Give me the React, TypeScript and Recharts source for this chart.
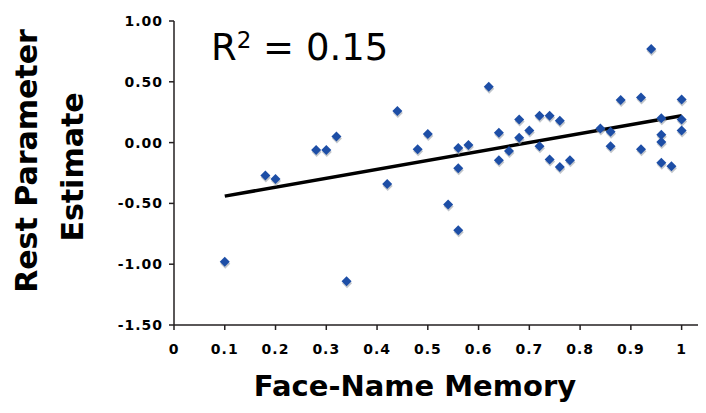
import { ScatterChart, Scatter, XAxis, YAxis, ReferenceLine } from "recharts";

// Face-name memory score per subject
const memory = [
  0.1, 0.18, 0.2, 0.28, 0.3, 0.32, 0.34, 0.42, 0.44, 0.48, 0.5, 0.54, 0.56, 0.56, 0.56,
  0.58, 0.62, 0.64, 0.64, 0.66, 0.68, 0.68, 0.7, 0.72, 0.72, 0.74, 0.74, 0.76, 0.76,
  0.78, 0.84, 0.86, 0.86, 0.88, 0.92, 0.92, 0.94, 0.96, 0.96, 0.96, 0.96, 0.98, 1.0,
  1.0, 1.0,
];

// Rest parameter estimate per subject
const estimate = [
  -0.98, -0.27, -0.3, -0.06, -0.06, 0.05, -1.14, -0.34, 0.26, -0.055, 0.07, -0.51,
  -0.72, -0.045, -0.21, -0.02, 0.46, 0.08, -0.145, -0.07, 0.19, 0.04, 0.1, 0.22, -0.03,
  0.22, -0.14, 0.18, -0.2, -0.145, 0.115, 0.09, -0.03, 0.35, 0.37, -0.055, 0.77, 0.2,
  0.065, 0.005, -0.165, -0.195, 0.355, 0.19, 0.1,
];

// fitted line end points
const fitX = [0.1, 1.0];
const fitY = [-0.44, 0.22];

const xTicks = [0, 0.1, 0.2, 0.3, 0.4, 0.5, 0.6, 0.7, 0.8, 0.9, 1];
const yTicks = [-1.5, -1, -0.5, 0, 0.5, 1];

const points = memory.map((m, i) => ({ x: m, y: estimate[i] }));

const FONT = "'DejaVu Sans', Verdana, sans-serif";
const tickStyle = { fontFamily: FONT, fontSize: 14, fontWeight: 700, fill: "#000", letterSpacing: 1 };

function Diamond(props: any) {
  const { cx, cy } = props;
  if (cx == null || cy == null) return null;
  const r = 5;
  const pts = (dx: number, dy: number) =>
    `${cx + dx},${cy + dy - r} ${cx + dx + r},${cy + dy} ${cx + dx},${cy + dy + r} ${cx + dx - r},${cy + dy}`;
  return (
    <g>
      <polygon points={pts(0.5, 2)} fill="#9aa0a8" opacity={0.6} />
      <polygon points={pts(0, 0)} fill="#1d4ea6" />
    </g>
  );
}

export default function App() {
  return (
    <div style={{ position: "relative", width: 699, height: 405 }}>
      <ScatterChart
        width={699}
        height={405}
        margin={{ top: 13, right: 0, bottom: 0, left: 0 }}
      >
        <XAxis
          type="number"
          dataKey="x"
          domain={[0, 1.05]}
          ticks={xTicks}
          tick={tickStyle}
          tickSize={5}
          tickMargin={14}
          height={88}
          stroke="#231f20"
          strokeWidth={1.5}
          allowDataOverflow
        />
        <YAxis
          type="number"
          dataKey="y"
          domain={[-1.5, 1]}
          ticks={yTicks}
          tick={tickStyle}
          tickFormatter={(v: number) => v.toFixed(2)}
          tickSize={5}
          tickMargin={6}
          width={166}
          stroke="#231f20"
          strokeWidth={1.5}
        />
        <ReferenceLine
          segment={[
            { x: fitX[0], y: fitY[0] },
            { x: fitX[1], y: fitY[1] },
          ]}
          stroke="#000"
          strokeWidth={3.5}
          ifOverflow="visible"
        />
        <Scatter data={points} shape={<Diamond />} isAnimationActive={false} />
      </ScatterChart>
      <svg
        width={699}
        height={405}
        style={{ position: "absolute", left: 0, top: 0, pointerEvents: "none" }}
      >
        <text x={203} y={52} fontFamily={FONT} fontSize={37} fill="#000">
          <tspan>R</tspan>
          <tspan fontSize={23} dy={-12}>2</tspan>
          <tspan dy={12}> = 0.15</tspan>
        </text>
        <text
          transform="translate(29,153) rotate(-90)"
          textAnchor="middle"
          fontFamily={FONT}
          fontSize={30}
          fontWeight={700}
          fill="#000"
        >
          Rest Parameter
        </text>
        <text
          transform="translate(75,159) rotate(-90)"
          textAnchor="middle"
          fontFamily={FONT}
          fontSize={30}
          fontWeight={700}
          fill="#000"
        >
          Estimate
        </text>
        <text
          x={407}
          y={388}
          textAnchor="middle"
          fontFamily={FONT}
          fontSize={29}
          fontWeight={700}
          fill="#000"
        >
          Face-Name Memory
        </text>
      </svg>
    </div>
  );
}
